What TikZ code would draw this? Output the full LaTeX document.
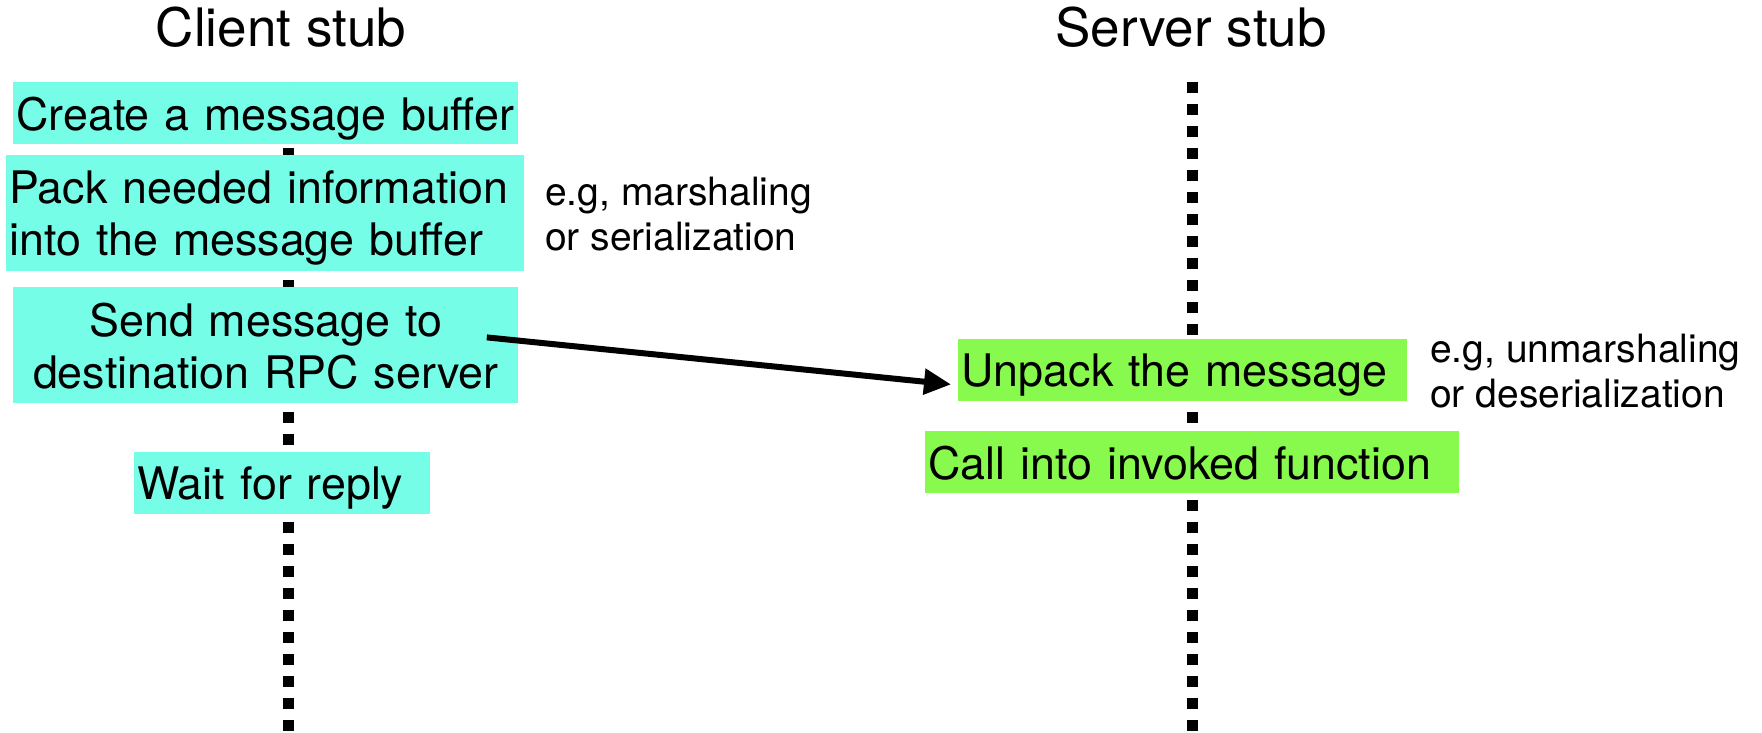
\documentclass[tikz,border=0pt]{standalone}
\usepackage{fontspec}
\setmainfont{TeX Gyre Heros}
\usetikzlibrary{arrows.meta}
\definecolor{clientfill}{RGB}{118,253,232}
\definecolor{serverfill}{RGB}{136,250,78}
\begin{document}
\begin{tikzpicture}[x=0.5pt,y=-0.5pt,
  lifeline/.style={line width=5.5pt, dash pattern=on 5.5pt off 5.5pt},
  title/.style={anchor=base, inner sep=0pt, font=\fontsize{26.5}{30}\selectfont},
  stepbox/.style={anchor=north west, inner ysep=0pt, inner xsep=1.5pt,
    font=\fontsize{22.4}{26}\selectfont},
  oneline/.style={stepbox, text depth=0pt, minimum height=31pt},
  twoline/.style={stepbox, text depth=26pt, minimum height=58pt},
  client/.style={fill=clientfill},
  server/.style={fill=serverfill},
  note/.style={anchor=west, inner sep=0pt, align=left, text depth=0pt,
    font=\fontsize{19.5}{22.5}\selectfont},
  msg/.style={line width=3pt, -{Triangle[length=13.5pt,width=12.5pt]}}
]
\useasboundingbox (0,0) rectangle (1762,733);

% lifelines
\coordinate (ctop) at (288,82);
\coordinate (cbot) at (288,733);
\coordinate (stop) at (1192,82);
\coordinate (sbot) at (1192,733);
\draw[lifeline] (ctop) -- (cbot);
\draw[lifeline] (stop) -- (sbot);

% headings
\node[title] (clienttitle) at (281,47) {Client stub};
\node[title] (servertitle) at (1191,47) {Server stub};

% client stub steps
\node[oneline, client, text width=249.5pt, align=left] (create) at (13,82)
  {Create a message buffer};
\node[twoline, client, text width=256pt, align=left] (pack) at (6,155)
  {Pack needed information\\into the message buffer};
\node[twoline, client, text width=249.5pt, align=center] (send) at (13,287)
  {Send message to\\destination RPC server};
\node[oneline, client, text width=145pt, align=left] (wait) at (134,452)
  {Wait for reply};

% server stub steps
\node[oneline, server, text width=221.5pt, align=left] (unpack) at (958,339)
  {Unpack the message};
\node[oneline, server, text width=264pt, align=left] (call) at (925,431)
  {Call into invoked function};

% side notes
\node[note] (packnote) at ([xshift=10pt]pack.east)
  {e.g, marshaling\\or serialization};
\node[note] (unpacknote) at ([xshift=11pt]unpack.east)
  {e.g, unmarshaling\\or deserialization};

% request message
\draw[msg] ([xshift=-16pt,yshift=4pt]send.east) -- ([xshift=-3.5pt,yshift=-7pt]unpack.west);
\end{tikzpicture}
\end{document}
